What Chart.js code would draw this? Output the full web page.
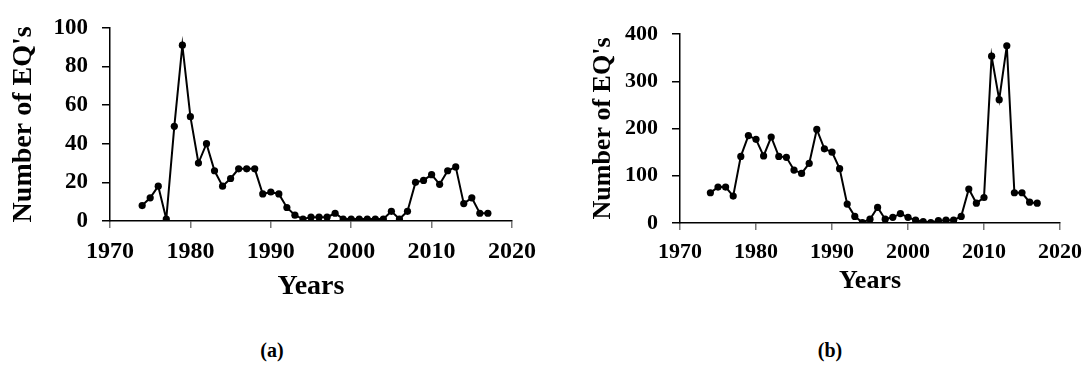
<!DOCTYPE html>
<html>
<head>
<meta charset="utf-8">
<script src="https://cdn.jsdelivr.net/npm/chart.js@4/dist/chart.umd.min.js"></script>
<style>
  html, body { margin: 0; padding: 0; background: #fff; }
  body { width: 1091px; height: 369px; position: relative; overflow: hidden; }
  .panel { position: absolute; top: 0; }
  .cap { position: absolute; font-family: "Liberation Serif", "Times New Roman", serif;
         font-weight: bold; font-size: 20px; color: #000; transform: translate(-50%, -50%); }
</style>
</head>
<body>
<div class="panel" style="left:0;width:545px;height:310px;"><canvas id="chartA"></canvas></div>
<div class="panel" style="left:560px;width:531px;height:310px;"><canvas id="chartB"></canvas></div>
<div class="cap" style="left:272px;top:350px;">(a)</div>
<div class="cap" style="left:830px;top:350px;">(b)</div>
<script>
// Years of record
const years = [1974, 1975, 1976, 1977, 1978, 1979, 1980, 1981, 1982, 1983,
               1984, 1985, 1986, 1987, 1988, 1989, 1990, 1991, 1992, 1993,
               1994, 1995, 1996, 1997, 1998, 1999, 2000, 2001, 2002, 2003,
               2004, 2005, 2006, 2007, 2008, 2009, 2010, 2011, 2012, 2013,
               2014, 2015, 2016, 2017];

// Panel (a): yearly earthquake counts
const countsA = [8, 12, 18, 1, 49, 91, 54, 30, 40, 26,
                 18, 22, 27, 27, 27, 14, 15, 14, 7, 3,
                 1, 2, 2, 2, 4, 1, 1, 1, 1, 1,
                 1, 5, 1, 5, 20, 21, 24, 19, 26, 28,
                 9, 12, 4, 4];

// Panel (b): yearly earthquake counts
const countsB = [64, 76, 76, 57, 141, 185, 177, 142, 182, 141,
                 139, 112, 105, 126, 198, 157, 150, 115, 40, 14,
                 1, 8, 33, 8, 12, 20, 12, 6, 3, 1,
                 5, 6, 6, 14, 72, 42, 54, 353, 261, 375,
                 64, 64, 44, 42];

const xTicks = [1970, 1980, 1990, 2000, 2010, 2020];
const yTicksA = [0, 20, 40, 60, 80, 100];
const yTicksB = [0, 100, 200, 300, 400];

const SERIF = '"Liberation Serif", "Times New Roman", serif';

function makeChart(id, counts, yTicks, cfg) {
  const pts = years.map((yr, i) => ({ x: yr, y: counts[i] }));
  return new Chart(document.getElementById(id), {
    type: 'line',
    data: {
      datasets: [{
        data: pts,
        borderColor: '#000',
        backgroundColor: '#000',
        borderWidth: 2,
        pointRadius: 3.6,
        pointBackgroundColor: '#000',
        pointBorderWidth: 0,
        tension: 0
      }]
    },
    options: {
      responsive: true,
      maintainAspectRatio: false,
      animation: false,
      layout: { padding: cfg.padding },
      plugins: { legend: { display: false }, tooltip: { enabled: false } },
      scales: {
        x: {
          type: 'linear',
          min: xTicks[0],
          max: xTicks[xTicks.length - 1],
          afterBuildTicks: s => { s.ticks = xTicks.map(v => ({ value: v })); },
          afterFit: s => { s.height = cfg.xHeight; },
          ticks: {
            color: '#000',
            padding: cfg.xTickPad,
            maxRotation: 0,
            font: { family: SERIF, weight: '700', size: cfg.xTickSize },
            callback: v => String(v)
          },
          grid: { drawOnChartArea: false, drawTicks: true, tickLength: 7, color: '#777', lineWidth: 1.5 },
          border: { display: true, color: '#000', width: 1.5 },
          title: {
            display: true, text: 'Years', color: '#000',
            font: { family: SERIF, weight: '700', size: cfg.xTitleSize },
            padding: { top: 0, bottom: cfg.xTitlePad }
          }
        },
        y: {
          min: yTicks[0],
          max: yTicks[yTicks.length - 1],
          afterBuildTicks: s => { s.ticks = yTicks.map(v => ({ value: v })); },
          afterFit: s => { s.width = cfg.yWidth; },
          ticks: {
            color: '#000',
            padding: 14,
            font: { family: SERIF, weight: '700', size: cfg.yTickSize },
            callback: v => String(v)
          },
          grid: { drawOnChartArea: false, drawTicks: true, tickLength: 8, color: '#000', lineWidth: 1.5 },
          border: { display: true, color: '#000', width: 1.5 },
          title: {
            display: true, text: "Number of EQ's", color: '#000',
            font: { family: SERIF, weight: '700', size: cfg.yTitleSize },
            padding: { top: cfg.yTitlePad, bottom: 0 }
          }
        }
      }
    }
  });
}

makeChart('chartA', countsA, yTicksA, {
  padding: { top: 24, right: 33, bottom: 0, left: 0 },
  xHeight: 89, yWidth: 110,
  xTickSize: 24, yTickSize: 23, xTickPad: 9,
  xTitleSize: 28, xTitlePad: 6,
  yTitleSize: 28, yTitlePad: 7
});

makeChart('chartB', countsB, yTicksB, {
  padding: { top: 34, right: 24, bottom: 0, left: 0 },
  xHeight: 87, yWidth: 120,
  xTickSize: 22, yTickSize: 22, xTickPad: 9,
  xTitleSize: 26, xTitlePad: 13,
  yTitleSize: 26, yTitlePad: 28
});
</script>
</body>
</html>
